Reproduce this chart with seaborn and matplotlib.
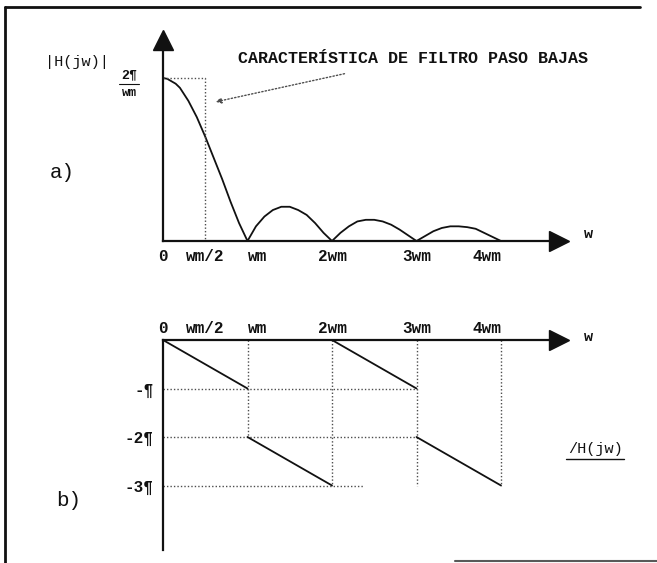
import matplotlib
matplotlib.use('Agg')
import matplotlib.pyplot as plt
from matplotlib.lines import Line2D
import seaborn as sns

sns.set_theme(style='white')
plt.rcParams['font.family'] = ['Liberation Mono', 'DejaVu Sans Mono']

# |H(jw)|, w en unidades de wm, altura en unidades de 2pi/wm
w_mag = [0, 0.05, 0.1, 0.15, 0.2, 0.25, 0.3, 0.4, 0.5, 0.6, 0.7, 0.8, 0.9, 1.0,
         1.1, 1.2, 1.3, 1.4, 1.5, 1.6, 1.7, 1.8, 1.9, 2.0,
         2.1, 2.2, 2.3, 2.4, 2.5, 2.6, 2.7, 2.8, 2.9, 3.0,
         3.1, 3.2, 3.3, 3.4, 3.5, 3.6, 3.7, 3.8, 3.9, 4.0]
h_mag = [1.00, 0.995, 0.98, 0.965, 0.94, 0.90, 0.86, 0.76, 0.64, 0.51, 0.38, 0.24, 0.11, 0.0,
         0.09, 0.15, 0.19, 0.21, 0.21, 0.19, 0.16, 0.11, 0.05, 0.0,
         0.05, 0.09, 0.12, 0.13, 0.13, 0.12, 0.10, 0.07, 0.035, 0.0,
         0.03, 0.06, 0.08, 0.09, 0.09, 0.085, 0.075, 0.05, 0.025, 0.0]

# fase /H(jw) en unidades de pi
w_fase = [0, 1, 1, 2, 2, 3, 3, 4]
h_fase = [0, -1, -2, -3, 0, -1, -2, -3]
tramo = [0, 0, 1, 1, 2, 2, 3, 3]

xticks = [0, 0.5, 1, 2, 3, 4]
xlabels = ['0', 'wm/2', 'wm', '2wm', '3wm', '4wm']
fase_ticks = [-1, -2, -3]
fase_labels = ['-¶', '-2¶', '-3¶']

# filtro ideal (rectangulo punteado)
corte = 0.5
pico = 1.0

# lineas guia punteadas del panel b
guia_v_x = [1, 2, 3, 4]
guia_v_fin = [-2, -3, -3, -3]
guia_h_y = [-1, -2, -3]
guia_h_fin = [3, 3, 2.37]

W, H = 657, 563
x0, wm = 163, 84.5
xlim = (-x0 / wm, (W - x0) / wm)
tinta = '#111111'
punteo = (0, (1, 1.5))

fig = plt.figure(figsize=(W / 100, H / 100), dpi=100)
fig.patch.set_facecolor('white')

# ---------------- a) magnitud
ax_a = fig.add_axes([0, 1 - 290 / H, 1, 290 / H])
ax_a.set_xlim(xlim)
ax_a.set_ylim((241 - 290) / 163, 241 / 163)
ax_a.patch.set_alpha(0)
for s in ['top', 'right']:
    ax_a.spines[s].set_visible(False)
for s in ['left', 'bottom']:
    ax_a.spines[s].set_position(('data', 0))
    ax_a.spines[s].set_color(tinta)
    ax_a.spines[s].set_linewidth(1.6)
ax_a.spines['left'].set_bounds(0, 1.19)
ax_a.spines['bottom'].set_bounds(0, 4.57)
ax_a.plot([0], [1.236], marker='^', ms=14, color=tinta, clip_on=False)
ax_a.plot([4.69], [0], marker='>', ms=14, color=tinta, clip_on=False)

ax_a.set_xticks(xticks, xlabels)
ax_a.set_yticks([])
ax_a.tick_params(axis='x', length=0, pad=6, labelsize=11.5, colors=tinta)
for lab, ha in zip(ax_a.get_xticklabels(), ['center', 'center', 'left', 'center', 'center', 'right']):
    lab.set_ha(ha)
    lab.set_fontweight('bold')

sns.lineplot(x=w_mag, y=h_mag, ax=ax_a, color=tinta, lw=1.3,
             estimator=None, sort=False)
ax_a.plot([0, corte, corte], [pico, pico, 0], ls=punteo, color='0.3', lw=1)

ax_a.annotate('', xy=(0.59, 0.85), xytext=(2.18, 1.03),
              arrowprops=dict(arrowstyle='-|>', ls=punteo, color='0.3',
                              lw=1, mutation_scale=8))
ax_a.text(0.89, 1.12, 'CARACTERÍSTICA DE FILTRO PASO BAJAS', fontsize=12,
          fontweight='bold', va='center', ha='left', color=tinta)
ax_a.text(-1.40, 1.10, '|H(jw)|', fontsize=11, va='center', ha='left', color=tinta)
ax_a.text(-0.40, 1.015, '2¶', fontsize=9.5, fontweight='bold', va='center', ha='center', color=tinta)
ax_a.plot([-0.52, -0.28], [0.965, 0.965], color=tinta, lw=0.8)
ax_a.text(-0.40, 0.91, 'wm', fontsize=9, fontweight='bold', va='center', ha='center', color=tinta)
ax_a.text(-1.34, 0.42, 'a)', fontsize=15, va='center', ha='left', color=tinta)
ax_a.text(5.04, 0.04, 'w', fontsize=11, fontweight='bold', va='center', ha='center', color=tinta)

# ---------------- b) fase
ax_b = fig.add_axes([0, 0, 1, 273 / H])
ax_b.set_xlim(xlim)
ax_b.set_ylim((340 - 563) / 48.5, (340 - 290) / 48.5)
ax_b.patch.set_alpha(0)
for s in ['bottom', 'right']:
    ax_b.spines[s].set_visible(False)
for s in ['left', 'top']:
    ax_b.spines[s].set_position(('data', 0))
    ax_b.spines[s].set_color(tinta)
    ax_b.spines[s].set_linewidth(1.6)
ax_b.spines['left'].set_bounds((340 - 550) / 48.5, 0)
ax_b.spines['top'].set_bounds(0, 4.57)
ax_b.plot([4.69], [0], marker='>', ms=14, color=tinta, clip_on=False)

ax_b.xaxis.tick_top()
ax_b.set_xticks(xticks, xlabels)
ax_b.tick_params(axis='x', length=0, pad=3, labelsize=11.5, colors=tinta)
for lab, ha in zip(ax_b.get_xticklabels(), ['center', 'center', 'left', 'center', 'center', 'right']):
    lab.set_ha(ha)
    lab.set_fontweight('bold')
ax_b.set_yticks(fase_ticks, fase_labels)
ax_b.tick_params(axis='y', length=0, pad=7, labelsize=11.5, colors=tinta)
for lab in ax_b.get_yticklabels():
    lab.set_fontweight('bold')

for gx, gf in zip(guia_v_x, guia_v_fin):
    ax_b.plot([gx, gx], [0, gf], ls=punteo, color='0.3', lw=1)
for gy, gf in zip(guia_h_y, guia_h_fin):
    ax_b.plot([0, gf], [gy, gy], ls=punteo, color='0.3', lw=1)

sns.lineplot(x=w_fase, y=h_fase, units=tramo, ax=ax_b, color=tinta, lw=1.3,
             estimator=None, sort=False, legend=False)

ax_b.text(5.04, 0.06, 'w', fontsize=11, fontweight='bold', va='center', ha='center', color=tinta)
ax_b.text(4.79, -2.25, '/H(jw)', fontsize=11, va='center', ha='left', color=tinta)
ax_b.plot([4.77, 5.46], [-2.45, -2.45], color=tinta, lw=1)
ax_b.text(-1.26, -3.3, 'b)', fontsize=15, va='center', ha='left', color=tinta)

# marco escaneado
fig.add_artist(Line2D([5 / W, 640 / W], [1 - 7 / H, 1 - 7 / H], color=tinta, lw=2))
fig.add_artist(Line2D([5 / W, 5 / W], [1 - 7 / H, 0], color=tinta, lw=2))
fig.add_artist(Line2D([455 / W, 1], [1 - 561 / H, 1 - 561 / H], color='0.35', lw=1.5))

fig.savefig('out.png', dpi=100)
